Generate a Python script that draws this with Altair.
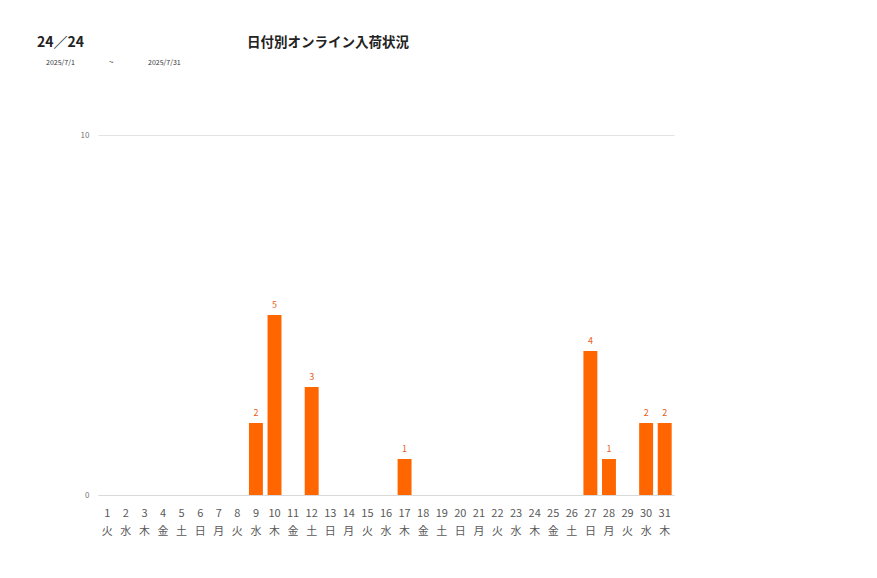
import altair as alt
import pandas as pd

days = [str(i) for i in range(1, 32)]
weekdays = ["火","水","木","金","土","日","月","火","水","木","金","土","日","月","火","水","木","金","土","日","月","火","水","木","金","土","日","月","火","水","木"]
counts = [0,0,0,0,0,0,0,0,2,5,0,3,0,0,0,0,1,0,0,0,0,0,0,0,0,0,4,1,0,2,2]

df = pd.DataFrame({
    "day": [d + "|" + w for d, w in zip(days, weekdays)],
    "count": counts,
})
order = list(df["day"])
FONT = "Noto Sans CJK JP"

base = alt.Chart(df)
x_enc = alt.X("day:N", sort=order, scale=alt.Scale(paddingInner=0.25, paddingOuter=0.125),
              axis=alt.Axis(title=None, labelAngle=0, labelExpr="split(datum.label, '|')",
                            labelFontSize=11, labelColor="#595959", labelFont=FONT,
                            labelLineHeight=18, labelPadding=12, ticks=False,
                            domainColor="#d9d9d9", labelBaseline="top"))
y_enc = alt.Y("count:Q", scale=alt.Scale(domain=[0, 10]),
              axis=alt.Axis(title=None, values=[0, 10], grid=True, gridColor="#e3e3e3",
                            domain=False, ticks=False, labelFontSize=8,
                            labelColor="#777777", labelPadding=9, labelFont=FONT))

bars = base.mark_bar(color="#FF6600").encode(x=x_enc, y=y_enc)
labels = base.transform_filter("datum.count > 0").mark_text(
    color="#E8601C", fontSize=9, dy=-10, font=FONT
).encode(x=alt.X("day:N", sort=order), y="count:Q", text="count:Q")

title_df = pd.DataFrame({"t": ["24／24"]})
t1 = alt.Chart(title_df).mark_text(fontSize=14, fontWeight="bold", align="left", font=FONT, color="#222222").encode(
    x=alt.value(-61), y=alt.value(-92), text="t:N")
title2_df = pd.DataFrame({"t": ["日付別オンライン入荷状況"]})
t2 = alt.Chart(title2_df).mark_text(fontSize=13.5, fontWeight="bold", align="center", font=FONT, color="#222222").encode(
    x=alt.value(230), y=alt.value(-92), text="t:N")
s1 = alt.Chart(pd.DataFrame({"t": ["2025/7/1"]})).mark_text(fontSize=7, align="left", font=FONT, color="#333333").encode(
    x=alt.value(-52), y=alt.value(-72), text="t:N")
s2 = alt.Chart(pd.DataFrame({"t": ["~"]})).mark_text(fontSize=8, align="left", font=FONT, color="#333333").encode(
    x=alt.value(11), y=alt.value(-72), text="t:N")
s3 = alt.Chart(pd.DataFrame({"t": ["2025/7/31"]})).mark_text(fontSize=7, align="left", font=FONT, color="#333333").encode(
    x=alt.value(50), y=alt.value(-72), text="t:N")

chart = alt.layer(bars, labels, t1, t2, s1, s2, s3).properties(
    width=576, height=360,
    autosize=alt.AutoSizeParams(type="none"),
    padding={"left": 90, "top": 127, "right": 195, "bottom": 75},
).configure_view(stroke=None)

chart.save("out.html", embed_options={"renderer": "svg", "actions": False})
